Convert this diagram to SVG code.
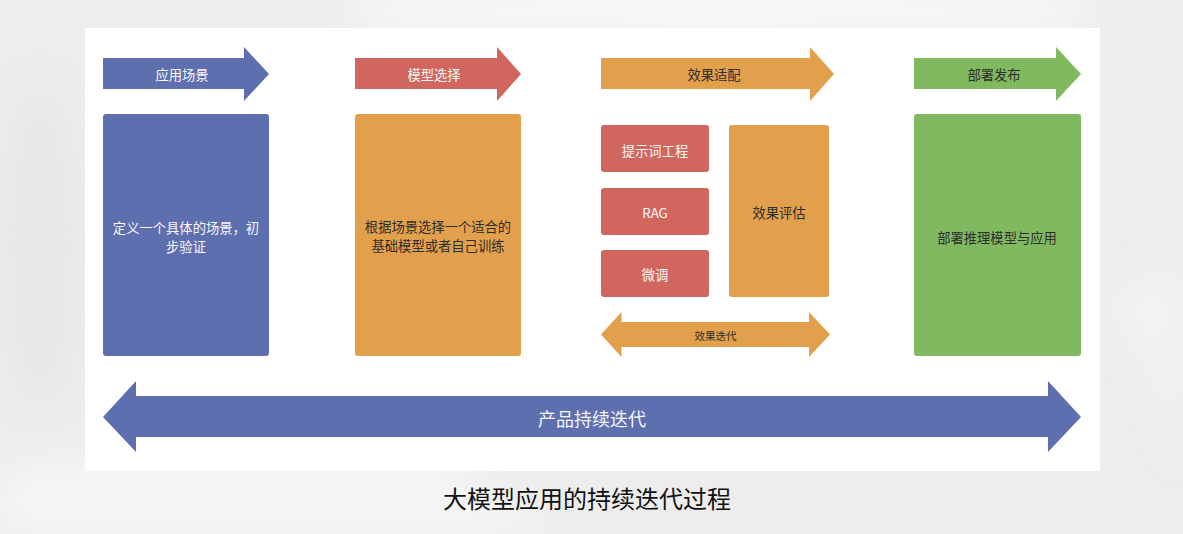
<svg xmlns="http://www.w3.org/2000/svg" width="1183" height="534" viewBox="0 0 1183 534">
  <defs>
    <filter id="blur" x="-20%" y="-20%" width="140%" height="140%">
      <feGaussianBlur stdDeviation="18"/>
    </filter>
    <style>
      .t { font-family: "Noto Sans CJK SC", "Noto Sans", sans-serif; text-anchor: middle; dominant-baseline: central; }
      .s13 { font-size: 13.3px; }
      .light { fill: #F7F7F7; }
      .dark { fill: #2E2E2E; }
      .blue { fill: #5E6FB0; }
      .red { fill: #D1665E; }
      .orange { fill: #E29F4C; }
      .green { fill: #81B961; }
    </style>
  </defs>

  <!-- background -->
  <g id="background">
    <rect x="0" y="0" width="1183" height="534" fill="#EDEDED"/>
    <g filter="url(#blur)" opacity="0.9">
      <ellipse cx="720" cy="10" rx="380" ry="45" fill="#F7F7F7"/>
      <path d="M0 470 L380 420 L560 534 L0 534 Z" fill="#F6F6F6"/>
      <path d="M1100 300 Q1170 380 1183 470 L1183 260 Z" fill="#F3F3F3"/>
      <ellipse cx="40" cy="250" rx="40" ry="160" fill="#E6E6E6"/>
    </g>
  </g>

  <!-- panel -->
  <rect id="panel" x="85" y="28" width="1015" height="443" fill="#FFFFFF"/>

  <!-- stage arrows -->
  <g id="stage-1">
    <path class="blue" d="M103 58 H244 V47 L269 74 L244 101 V89 H103 Z"/>
    <text class="t s13 light" x="182" y="74">应用场景</text>
  </g>
  <g id="stage-2">
    <path class="red" d="M355 58 H497 V47 L521 74 L497 101 V89 H355 Z"/>
    <text class="t s13 light" x="434" y="74">模型选择</text>
  </g>
  <g id="stage-3">
    <path class="orange" d="M601 58 H810 V47 L834 74 L810 101 V89 H601 Z"/>
    <text class="t s13 dark" x="714" y="74">效果适配</text>
  </g>
  <g id="stage-4">
    <path class="green" d="M914 58 H1056 V47 L1081 74 L1056 101 V89 H914 Z"/>
    <text class="t s13 dark" x="994" y="74">部署发布</text>
  </g>

  <!-- content boxes -->
  <g id="box-scene">
    <rect class="blue" x="103" y="114" width="166" height="242" rx="3"/>
    <text class="t s13 light" x="186" y="227">定义一个具体的场景，初</text>
    <text class="t s13 light" x="186" y="246">步验证</text>
  </g>
  <g id="box-model">
    <rect class="orange" x="355" y="114" width="166" height="242" rx="3"/>
    <text class="t s13 dark" x="438" y="226">根据场景选择一个适合的</text>
    <text class="t s13 dark" x="438" y="245">基础模型或者自己训练</text>
  </g>
  <g id="box-prompt">
    <rect class="red" x="601" y="125" width="108" height="47" rx="3"/>
    <text class="t s13 light" x="655" y="150">提示词工程</text>
  </g>
  <g id="box-rag">
    <rect class="red" x="601" y="188" width="108" height="47" rx="3"/>
    <text class="t s13 light" x="655" y="212">RAG</text>
  </g>
  <g id="box-finetune">
    <rect class="red" x="601" y="250" width="108" height="47" rx="3"/>
    <text class="t s13 light" x="655" y="274">微调</text>
  </g>
  <g id="box-eval">
    <rect class="orange" x="729" y="125" width="100" height="172" rx="3"/>
    <text class="t s13 dark" x="779" y="212">效果评估</text>
  </g>
  <g id="box-deploy">
    <rect class="green" x="914" y="114" width="167" height="242" rx="3"/>
    <text class="t s13 dark" x="997" y="237">部署推理模型与应用</text>
  </g>

  <!-- connectors -->
  <g id="connectors">
    <g id="effect-iteration">
      <path class="orange" d="M601 334.5 L621.5 312 V322 H809 V312 L830 334.5 L809 357 V347 H621.5 V357 Z"/>
      <text class="t dark" x="715.5" y="335" font-size="10.5">效果迭代</text>
    </g>
    <g id="product-iteration">
      <path class="blue" d="M103 417 L136 381 V396 H1048 V381 L1081 417 L1048 452 V437 H136 V452 Z"/>
      <text class="t light" x="592" y="418" font-size="18">产品持续迭代</text>
    </g>
  </g>

  <!-- caption -->
  <text id="caption" class="t" x="587" y="497" font-size="24" fill="#111111">大模型应用的持续迭代过程</text>
</svg>
